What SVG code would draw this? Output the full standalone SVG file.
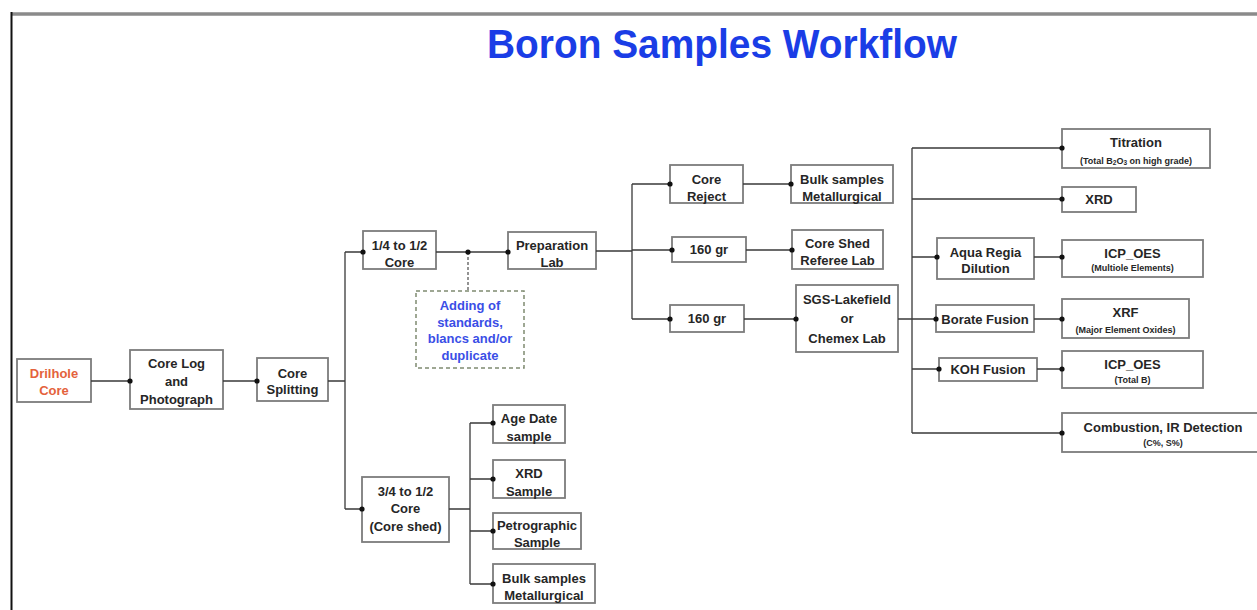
<svg xmlns="http://www.w3.org/2000/svg" width="1257" height="610" viewBox="0 0 1257 610">
<style>
.box{fill:#fff;stroke:#7c7c7c;stroke-width:1.8}
.dash{fill:#fff;stroke:#7f8a70;stroke-width:1.5;stroke-dasharray:4 3}
.t{font-family:"Liberation Sans",Arial,sans-serif;font-weight:bold;font-size:13px;fill:#262626;text-anchor:middle}
.s{font-size:9px}
.red{fill:#e4623c}
.blue{fill:#3a4ee6}
.ln{fill:none;stroke:#3a3a3a;stroke-width:1.3}
.dl{fill:none;stroke:#5a5a5a;stroke-width:1.3;stroke-dasharray:3 2}
.dot{fill:#111}
</style>
<rect x="0" y="0" width="1257" height="610" fill="#fff"/>
<line x1="12" y1="14" x2="1257" y2="14" stroke="#8a8a8a" stroke-width="3.5"/>
<line x1="11.5" y1="12" x2="11.5" y2="610" stroke="#111" stroke-width="2"/>
<text x="722" y="58" font-family="Liberation Sans,Arial,sans-serif" font-weight="bold" font-size="40" fill="#1a3de6" text-anchor="middle" textLength="470" lengthAdjust="spacingAndGlyphs">Boron Samples Workflow</text>

<g id="drilhole"><rect class="box" x="17" y="359" width="74" height="43"/><text class="t red" x="54" y="378">Drilhole</text><text class="t red" x="54" y="395">Core</text></g>
<g id="corelog"><rect class="box" x="130" y="350" width="93" height="59"/><text class="t" x="176.5" y="368">Core Log</text><text class="t" x="176.5" y="386">and</text><text class="t" x="176.5" y="404">Photograph</text></g>
<g id="splitting"><rect class="box" x="257" y="358" width="71" height="43"/><text class="t" x="292.5" y="378">Core</text><text class="t" x="292.5" y="394">Splitting</text></g>
<g id="quarter"><rect class="box" x="363" y="231" width="73" height="38"/><text class="t" x="399.5" y="250">1/4 to 1/2</text><text class="t" x="399.5" y="267">Core</text></g>
<g id="prep"><rect class="box" x="508" y="232" width="88" height="37"/><text class="t" x="552" y="250">Preparation</text><text class="t" x="552" y="267">Lab</text></g>
<g id="adding"><rect class="dash" x="416" y="291" width="108" height="77"/><text class="t blue" x="470" y="310">Adding of</text><text class="t blue" x="470" y="327">standards,</text><text class="t blue" x="470" y="343">blancs and/or</text><text class="t blue" x="470" y="360">duplicate</text></g>
<g id="reject"><rect class="box" x="670" y="165" width="73" height="38"/><text class="t" x="706.5" y="184">Core</text><text class="t" x="706.5" y="201">Reject</text></g>
<g id="gr1"><rect class="box" x="672" y="237" width="74" height="25"/><text class="t" x="709" y="254">160 gr</text></g>
<g id="gr2"><rect class="box" x="670" y="305" width="74" height="27"/><text class="t" x="707" y="323">160 gr</text></g>
<g id="bulk1"><rect class="box" x="791" y="165" width="102" height="38"/><text class="t" x="842" y="184">Bulk samples</text><text class="t" x="842" y="201">Metallurgical</text></g>
<g id="referee"><rect class="box" x="792" y="230" width="91" height="39"/><text class="t" x="837.5" y="248">Core Shed</text><text class="t" x="837.5" y="265">Referee Lab</text></g>
<g id="sgs"><rect class="box" x="796" y="285" width="102" height="67"/><text class="t" x="847" y="304">SGS-Lakefield</text><text class="t" x="847" y="323">or</text><text class="t" x="847" y="343">Chemex Lab</text></g>
<g id="titration"><rect class="box" x="1062" y="129" width="148" height="39"/><text class="t" x="1136" y="147">Titration</text><text class="t s" x="1136" y="164" font-size="9.5">(Total B<tspan font-size="6.5" dy="1">2</tspan><tspan dy="-1">O</tspan><tspan font-size="6.5" dy="1">3</tspan><tspan dy="-1"> on high grade)</tspan></text></g>
<g id="xrd"><rect class="box" x="1062" y="187" width="74" height="25"/><text class="t" x="1099" y="204">XRD</text></g>
<g id="aqua"><rect class="box" x="937" y="238" width="97" height="41"/><text class="t" x="985.5" y="257">Aqua Regia</text><text class="t" x="985.5" y="273">Dilution</text></g>
<g id="icp1"><rect class="box" x="1062" y="240" width="141" height="37"/><text class="t" x="1132.5" y="258">ICP_OES</text><text class="t s" x="1132.5" y="271">(Multiole Elements)</text></g>
<g id="borate"><rect class="box" x="936" y="305" width="98" height="27"/><text class="t" x="985" y="324">Borate Fusion</text></g>
<g id="xrf"><rect class="box" x="1062" y="299" width="127" height="39"/><text class="t" x="1125.5" y="317">XRF</text><text class="t s" x="1125.5" y="333">(Major Element Oxides)</text></g>
<g id="koh"><rect class="box" x="939" y="358" width="98" height="23"/><text class="t" x="988" y="374">KOH Fusion</text></g>
<g id="icp2"><rect class="box" x="1062" y="351" width="141" height="37"/><text class="t" x="1132.5" y="369">ICP_OES</text><text class="t s" x="1132.5" y="383">(Total B)</text></g>
<g id="combustion"><rect class="box" x="1062" y="413" width="205" height="39"/><text class="t" x="1163" y="432">Combustion, IR Detection</text><text class="t s" x="1163" y="446">(C%, S%)</text></g>
<g id="quarter3"><rect class="box" x="362" y="477" width="87" height="65"/><text class="t" x="405.5" y="496">3/4 to 1/2</text><text class="t" x="405.5" y="513">Core</text><text class="t" x="405.5" y="531">(Core shed)</text></g>
<g id="agedate"><rect class="box" x="493" y="405" width="72" height="38"/><text class="t" x="529" y="423">Age Date</text><text class="t" x="529" y="441">sample</text></g>
<g id="xrdsample"><rect class="box" x="493" y="460" width="72" height="38"/><text class="t" x="529" y="478">XRD</text><text class="t" x="529" y="496">Sample</text></g>
<g id="petro"><rect class="box" x="493" y="513" width="88" height="36"/><text class="t" x="537" y="530">Petrographic</text><text class="t" x="537" y="547">Sample</text></g>
<g id="bulk2"><rect class="box" x="493" y="564" width="102" height="39"/><text class="t" x="544" y="583">Bulk samples</text><text class="t" x="544" y="600">Metallurgical</text></g>

<g id="connectors">
<path class="ln" d="M91 381H130M223 381H257M328 381H345M345 252V509M345 252H363M345 509H362"/>
<path class="ln" d="M436 252H508"/>
<path class="dl" d="M468 252V291"/>
<path class="ln" d="M596 251H632M632 184V319M632 184H670M632 250H672M632 319H670"/>
<path class="ln" d="M743 184H791M746 250H792M744 319H796"/>
<path class="ln" d="M898 319H912M912 148V433M912 148H1062M912 199H1062M912 257H937M912 319H936M912 369H939M912 433H1062"/>
<path class="ln" d="M1034 257H1062M1034 319H1062M1037 369H1062"/>
<path class="ln" d="M449 509H470M470 423V584M470 423H493M470 479H493M470 531H493M470 584H493"/>
<g class="dot">
<circle cx="130" cy="381" r="2.6"/><circle cx="257" cy="381" r="2.6"/>
<circle cx="363" cy="252" r="2.6"/><circle cx="362" cy="509" r="2.6"/>
<circle cx="508" cy="252" r="2.6"/><circle cx="468" cy="252" r="2.6"/>
<circle cx="670" cy="184" r="2.6"/><circle cx="672" cy="250" r="2.6"/><circle cx="670" cy="319" r="2.6"/>
<circle cx="791" cy="184" r="2.6"/><circle cx="792" cy="250" r="2.6"/><circle cx="796" cy="319" r="2.6"/>
<circle cx="1062" cy="148" r="2.6"/><circle cx="1062" cy="199" r="2.6"/><circle cx="937" cy="257" r="2.6"/>
<circle cx="936" cy="319" r="2.6"/><circle cx="939" cy="369" r="2.6"/><circle cx="1062" cy="433" r="2.6"/>
<circle cx="1062" cy="257" r="2.6"/><circle cx="1062" cy="319" r="2.6"/><circle cx="1062" cy="369" r="2.6"/>
<circle cx="493" cy="423" r="2.6"/><circle cx="493" cy="479" r="2.6"/><circle cx="493" cy="531" r="2.6"/><circle cx="493" cy="584" r="2.6"/>
</g>
</g>
</svg>
